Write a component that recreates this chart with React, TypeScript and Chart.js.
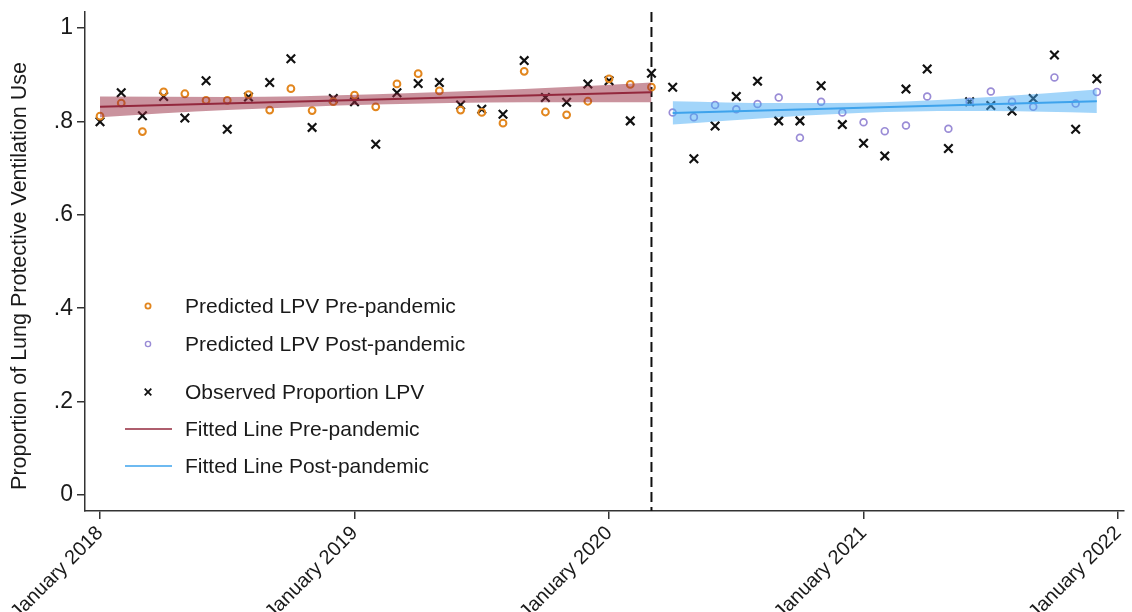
import React, { useEffect, useRef } from "react";
import { Chart, registerables } from "chart.js";

Chart.register(...registerables);

// ---------- data ----------
const xTickMonths = [0, 12, 24, 36, 48];
const xTickLabels = ["January 2018", "January 2019", "January 2020", "January 2021", "January 2022"];
const yTickValues = [0, 0.2, 0.4, 0.6, 0.8, 1];
const yTickLabels = ["0", ".2", ".4", ".6", ".8", "1"];
const yAxisTitle = "Proportion of Lung Protective Ventilation Use";

// monthly observations, month 0 = January 2018 ... month 47 = December 2021
const observedProportion = [
  0.799, 0.861, 0.812, 0.853, 0.807, 0.887, 0.783, 0.852, 0.883, 0.934, 0.787, 0.849,
  0.842, 0.751, 0.861, 0.881, 0.883, 0.835, 0.826, 0.815, 0.930, 0.851, 0.841, 0.880,
  0.887, 0.801, 0.903, 0.873, 0.720, 0.790, 0.853, 0.886, 0.801, 0.801, 0.876, 0.793,
  0.753, 0.726, 0.869, 0.912, 0.742, 0.842, 0.834, 0.822, 0.849, 0.942, 0.783, 0.891,
];
const preStartMonth = 0;
const predictedPre = [
  0.811, 0.839, 0.778, 0.863, 0.859, 0.845, 0.845, 0.857, 0.824, 0.870, 0.823, 0.842,
  0.856, 0.831, 0.880, 0.902, 0.865, 0.824, 0.819, 0.796, 0.907, 0.820, 0.814, 0.843,
  0.891, 0.879, 0.873,
];
const postStartMonth = 27;
const predictedPost = [
  0.819, 0.809, 0.835, 0.826, 0.837, 0.851, 0.765, 0.842, 0.819, 0.798, 0.779, 0.791,
  0.853, 0.784, 0.842, 0.864, 0.842, 0.831, 0.894, 0.838, 0.863,
];
const interventionMonth = 26;

const fitPreMonths = [0, 26];
const fitPreValues = [0.831, 0.862];
const bandPreMonths = [0, 6, 13, 20, 26];
const bandPreLower = [0.809, 0.824, 0.836, 0.841, 0.841];
const bandPreUpper = [0.853, 0.852, 0.858, 0.869, 0.883];

const fitPostMonths = [27, 47];
const fitPostValues = [0.818, 0.843];
const bandPostMonths = [27, 32, 37, 42, 47];
const bandPostLower = [0.793, 0.809, 0.82, 0.822, 0.818];
const bandPostUpper = [0.843, 0.839, 0.841, 0.852, 0.868];

const legendLabels = [
  "Predicted LPV Pre-pandemic",
  "Predicted LPV Post-pandemic",
  "Observed Proportion LPV",
  "Fitted Line Pre-pandemic",
  "Fitted Line Post-pandemic",
];

// ---------- styles ----------
const FONT = '"Liberation Sans", Arial, Helvetica, sans-serif';
const ORANGE = "#E2861E";
const PURPLE = "#9A8CD6";
const RED = "#93283D";
const BLUE = "#3EA3EC";
const AXIS = "#333333";

const pts = (months: number[], vals: number[]) => vals.map((v, i) => ({ x: months[i], y: v }));
const seq = (start: number, vals: number[]) => vals.map((v, i) => ({ x: start + i, y: v }));

const dashPlugin = {
  id: "interventionLine",
  beforeDatasetsDraw(chart: any) {
    const { ctx, chartArea, scales } = chart;
    const x = scales.x.getPixelForValue(interventionMonth);
    ctx.save();
    ctx.strokeStyle = "#111";
    ctx.lineWidth = 2;
    ctx.setLineDash([10, 5]);
    ctx.beginPath();
    ctx.moveTo(x, chartArea.top);
    ctx.lineTo(x, chartArea.bottom);
    ctx.stroke();
    ctx.restore();
  },
};

// rotated x tick labels, anchored at each tick of the x scale
const xLabelPlugin = {
  id: "xLabels",
  afterDraw(chart: any) {
    const { ctx, chartArea, scales } = chart;
    ctx.save();
    ctx.font = `20px ${FONT}`;
    ctx.fillStyle = "#1a1a1a";
    ctx.textAlign = "right";
    ctx.textBaseline = "top";
    xTickMonths.forEach((m, i) => {
      const x = scales.x.getPixelForValue(m);
      ctx.save();
      ctx.translate(x - 7, chartArea.bottom + 12);
      ctx.rotate(-Math.PI / 4);
      ctx.fillText(xTickLabels[i], 0, 0);
      ctx.restore();
    });
    ctx.restore();
  },
};

const yTitlePlugin = {
  id: "yTitle",
  afterDraw(chart: any) {
    const { ctx } = chart;
    ctx.save();
    ctx.translate(20, 276);
    ctx.rotate(-Math.PI / 2);
    ctx.font = `21.5px ${FONT}`;
    ctx.fillStyle = "#1a1a1a";
    ctx.textAlign = "center";
    ctx.textBaseline = "middle";
    ctx.fillText(yAxisTitle, 0, 0);
    ctx.restore();
  },
};

const legendPlugin = {
  id: "customLegend",
  afterDraw(chart: any) {
    const { ctx } = chart;
    const rows = [306, 344, 392, 429, 466];
    const markerX = 148;
    const textX = 185;
    ctx.save();
    ctx.font = `21px ${FONT}`;
    ctx.textBaseline = "middle";
    ctx.textAlign = "left";
    rows.forEach((y, i) => {
      ctx.save();
      if (i === 0 || i === 1) {
        ctx.strokeStyle = i === 0 ? ORANGE : PURPLE;
        ctx.lineWidth = i === 0 ? 1.8 : 1.4;
        ctx.beginPath();
        ctx.arc(markerX, y, 2.6, 0, Math.PI * 2);
        ctx.stroke();
      } else if (i === 2) {
        ctx.strokeStyle = "#111";
        ctx.lineWidth = 1.8;
        const d = 3.3;
        ctx.beginPath();
        ctx.moveTo(markerX - d, y - d);
        ctx.lineTo(markerX + d, y + d);
        ctx.moveTo(markerX + d, y - d);
        ctx.lineTo(markerX - d, y + d);
        ctx.stroke();
      } else {
        ctx.strokeStyle = i === 3 ? RED : BLUE;
        ctx.lineWidth = 1.6;
        ctx.beginPath();
        ctx.moveTo(125, y);
        ctx.lineTo(172, y);
        ctx.stroke();
      }
      ctx.restore();
      ctx.fillStyle = "#1a1a1a";
      ctx.fillText(legendLabels[i], textX, y + 1);
    });
    ctx.restore();
  },
};

export default function App() {
  const canvasRef = useRef<HTMLCanvasElement | null>(null);

  useEffect(() => {
    if (!canvasRef.current) return;
    const chart = new Chart(canvasRef.current, {
      type: "scatter",
      data: {
        datasets: [
          {
            label: "Observed Proportion LPV",
            data: seq(0, observedProportion),
            pointStyle: "crossRot",
            pointRadius: 6,
            borderColor: "#111",
            borderWidth: 2.2,
            backgroundColor: "transparent",
            order: 6,
          },
          {
            label: "Predicted LPV Pre-pandemic",
            data: seq(preStartMonth, predictedPre),
            pointStyle: "circle",
            pointRadius: 3.4,
            borderColor: ORANGE,
            borderWidth: 2,
            backgroundColor: "transparent",
            order: 5,
          },
          {
            label: "Predicted LPV Post-pandemic",
            data: seq(postStartMonth, predictedPost),
            pointStyle: "circle",
            pointRadius: 3.4,
            borderColor: PURPLE,
            borderWidth: 1.7,
            backgroundColor: "transparent",
            order: 5,
          },
          {
            type: "line",
            label: "preUpper",
            data: pts(bandPreMonths, bandPreUpper),
            borderWidth: 0,
            pointRadius: 0,
            cubicInterpolationMode: "monotone",
            fill: "+1",
            backgroundColor: "rgba(150,40,62,0.5)",
            order: 3,
          },
          {
            type: "line",
            label: "preLower",
            data: pts(bandPreMonths, bandPreLower),
            borderWidth: 0,
            pointRadius: 0,
            cubicInterpolationMode: "monotone",
            fill: false,
            order: 3,
          },
          {
            type: "line",
            label: "postUpper",
            data: pts(bandPostMonths, bandPostUpper),
            borderWidth: 0,
            pointRadius: 0,
            cubicInterpolationMode: "monotone",
            fill: "+1",
            backgroundColor: "rgba(70,172,245,0.5)",
            order: 3,
          },
          {
            type: "line",
            label: "postLower",
            data: pts(bandPostMonths, bandPostLower),
            borderWidth: 0,
            pointRadius: 0,
            cubicInterpolationMode: "monotone",
            fill: false,
            order: 3,
          },
          {
            type: "line",
            label: "Fitted Line Pre-pandemic",
            data: pts(fitPreMonths, fitPreValues),
            borderColor: RED,
            borderWidth: 2,
            pointRadius: 0,
            fill: false,
            order: 1,
          },
          {
            type: "line",
            label: "Fitted Line Post-pandemic",
            data: pts(fitPostMonths, fitPostValues),
            borderColor: BLUE,
            borderWidth: 2,
            pointRadius: 0,
            fill: false,
            order: 1,
          },
        ] as any,
      },
      options: {
        animation: false,
        responsive: true,
        maintainAspectRatio: false,
        layout: { padding: { left: 0, right: 5, top: 12, bottom: 0 } },
        plugins: {
          legend: { display: false },
          tooltip: { enabled: false },
        },
        scales: {
          x: {
            type: "linear",
            min: -0.708,
            max: 48.27,
            afterBuildTicks: (scale: any) => {
              scale.ticks = xTickMonths.map((v) => ({ value: v }));
            },
            afterFit: (scale: any) => {
              scale.height = 101;
            },
            ticks: { display: false },
            grid: {
              display: true,
              drawOnChartArea: false,
              drawTicks: true,
              tickLength: 8,
              color: AXIS,
              lineWidth: 1.5,
            },
            border: { display: true, color: AXIS, width: 1.5 },
          },
          y: {
            type: "linear",
            min: -0.034,
            max: 1.034,
            afterBuildTicks: (scale: any) => {
              scale.ticks = yTickValues.map((v) => ({ value: v }));
            },
            afterFit: (scale: any) => {
              scale.width = 85;
              scale.paddingTop = 0;
              scale.paddingBottom = 0;
            },
            ticks: {
              autoSkip: false,
              padding: 4,
              color: "#1a1a1a",
              font: { family: FONT, size: 23 },
              callback: (v: any) => {
                const i = yTickValues.findIndex((t) => Math.abs(t - Number(v)) < 1e-9);
                return i >= 0 ? yTickLabels[i] : "";
              },
            },
            grid: {
              display: true,
              drawOnChartArea: false,
              drawTicks: true,
              tickLength: 8,
              color: AXIS,
              lineWidth: 1.5,
            },
            border: { display: true, color: AXIS, width: 1.5 },
          },
        },
      },
      plugins: [dashPlugin, xLabelPlugin, yTitlePlugin, legendPlugin],
    });
    return () => chart.destroy();
  }, []);

  return (
    <div style={{ position: "absolute", left: 0, top: 0, width: 1132, height: 612, background: "#fff" }}>
      <canvas ref={canvasRef} />
    </div>
  );
}
